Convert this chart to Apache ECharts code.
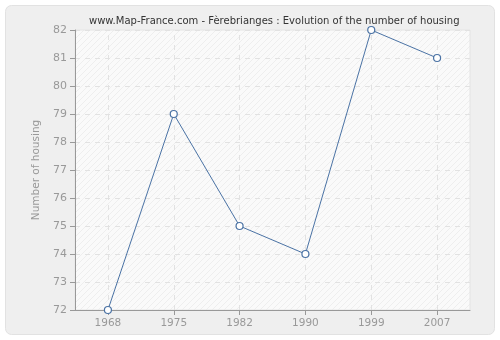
<!DOCTYPE html>
<html><head><meta charset="utf-8">
<script src="https://cdn.jsdelivr.net/npm/echarts@6/dist/echarts.min.js"></script>
<style>html,body{margin:0;padding:0;background:#fff}#c{width:500px;height:340px}</style>
</head><body><div id="c"></div>
<script>
var categories = ['1968','1975','1982','1990','1999','2007'];
var housing = [72, 79, 75, 74, 82, 81];
var yTicks = [72,73,74,75,76,77,78,79,80,81,82];

var chart = echarts.init(document.getElementById('c'), null, {renderer:'canvas'});
var pc = document.createElement('canvas');
pc.width = 6; pc.height = 6;
var ctx = pc.getContext('2d');
ctx.fillStyle = '#fafafa'; ctx.fillRect(0,0,6,6);
ctx.strokeStyle = '#eeeeee'; ctx.lineWidth = 1;
ctx.beginPath(); ctx.moveTo(0,6); ctx.lineTo(6,0); ctx.stroke();
ctx.beginPath(); ctx.moveTo(-1,1); ctx.lineTo(1,-1); ctx.stroke();
ctx.beginPath(); ctx.moveTo(5,7); ctx.lineTo(7,5); ctx.stroke();

chart.setOption({
  animation: false,
  backgroundColor: '#ffffff',
  graphic: [{
    type: 'rect', z: -10, silent: true,
    shape: {x: 5.5, y: 5.5, width: 489, height: 329, r: 6},
    style: {fill: '#efefef', stroke: '#e2e2e2', lineWidth: 1}
  }],
  title: {
    text: 'www.Map-France.com - Fèrebrianges : Evolution of the number of housing',
    left: 84, top: 11,
    textStyle: {fontFamily: 'DejaVu Sans', fontSize: 10, fontWeight: 'normal', color: '#333'}
  },
  grid: {left: 75, right: 30, top: 30, bottom: 30, show: true,
    backgroundColor: {image: pc, repeat: 'repeat'}, borderColor: '#e4e4e4', borderWidth: 1},
  xAxis: {
    type: 'category', data: categories, boundaryGap: true,
    axisLine: {lineStyle: {color: '#999'}},
    axisTick: {show: true, alignWithLabel: true, length: 5, lineStyle: {color: '#999'}},
    axisLabel: {color: '#999', fontFamily: 'DejaVu Sans', fontSize: 10.5, margin: 8},
    splitLine: {show: false}
  },
  yAxis: {
    type: 'value', min: yTicks[0], max: yTicks[yTicks.length-1], interval: 1,
    name: 'Number of housing', nameLocation: 'middle', nameGap: 30,
    nameTextStyle: {color: '#999', fontFamily: 'DejaVu Sans', fontSize: 10.5},
    axisLine: {show: true, lineStyle: {color: '#999'}},
    axisTick: {show: true, length: 5, lineStyle: {color: '#999'}},
    axisLabel: {color: '#999', fontFamily: 'DejaVu Sans', fontSize: 11, margin: 8},
    splitLine: {show: true, lineStyle: {color: '#e2e2e2', type: [5,5]}}
  },
  series: [{
    type: 'line', data: housing,
    symbol: 'circle', symbolSize: 7,
    lineStyle: {color: '#4a72a4', width: 1},
    itemStyle: {color: '#ffffff', borderColor: '#4a72a4', borderWidth: 1.2},
    markLine: {
      silent: true, symbol: 'none', label: {show: false}, z: 1,
      lineStyle: {color: '#e2e2e2', type: [5,5], width: 1},
      data: categories.map(function(c){ return {xAxis: c}; })
    }
  }]
});
</script></body></html>
